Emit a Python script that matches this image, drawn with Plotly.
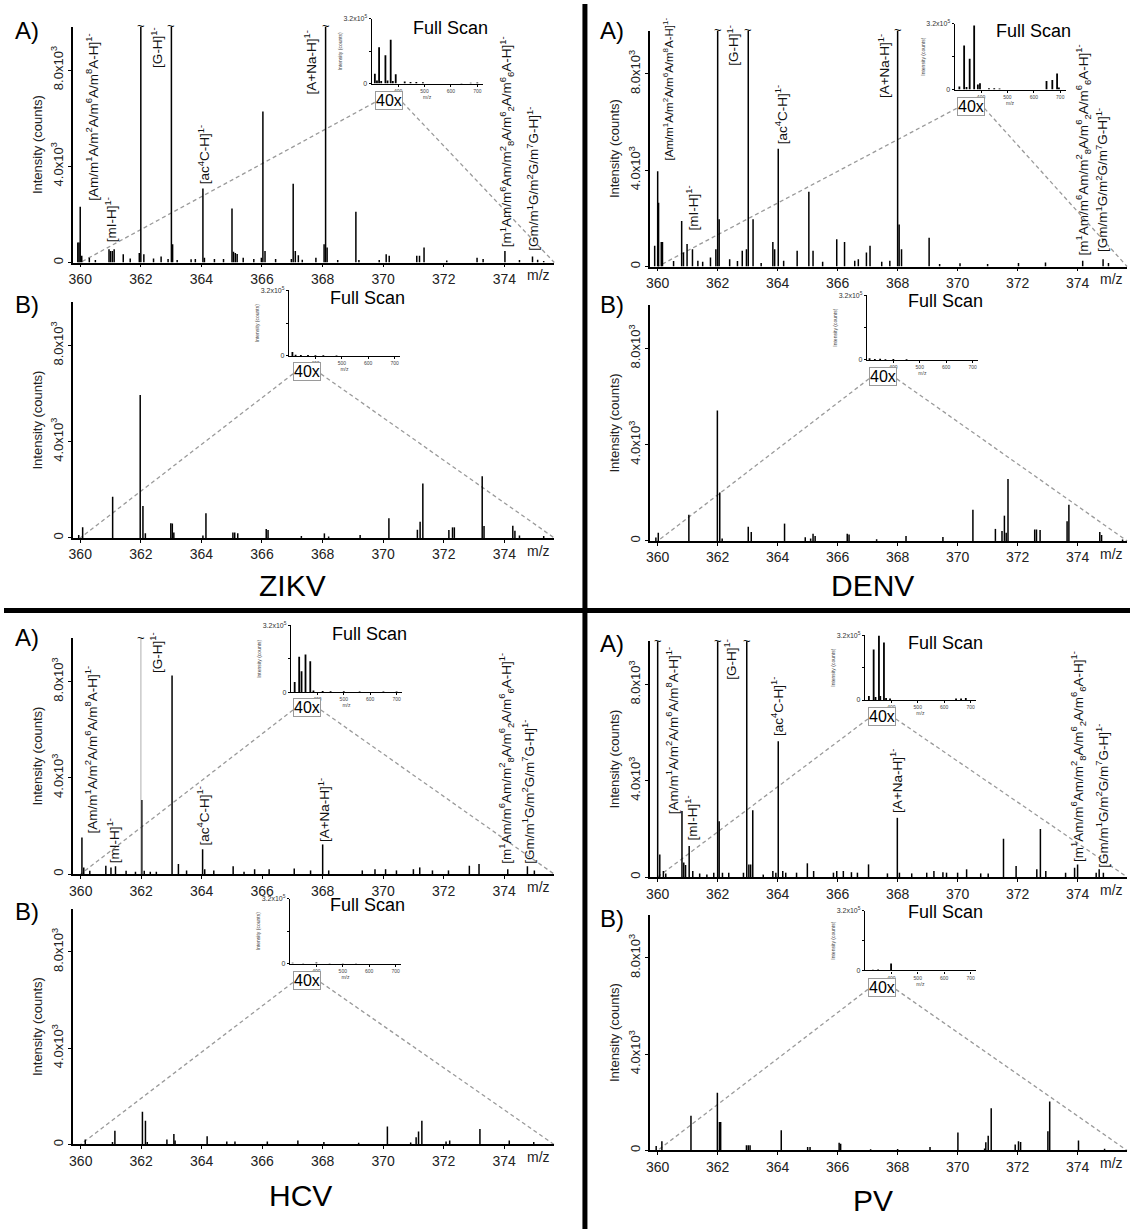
import plotly.graph_objects as go

W, H = 1130, 1232
FONT = "Arial, Liberation Sans, Helvetica, sans-serif"

# ---------------- axes / tick labels ----------------
MAIN_X_TICKS = [360, 362, 364, 366, 368, 370, 372, 374]
MAIN_Y_TICKS = [0, 4000, 8000]
MAIN_Y_TICKTEXT = ["0", "4.0x10<sup>3</sup>", "8.0x10<sup>3</sup>"]
X_RANGE = [359.75, 375.65]
Y_MAX = 9800
FULL_X_TICKS = [400, 500, 600, 700]
FULL_Y_TICKS = [0, 160000, 320000]
FULL_Y_TICKTEXT = ["0", "", "3.2x10<sup>5</sup>"]
FULL_X_RANGE = [300, 720]
FULL_Y_MAX = 320000
VIRUSES = ["ZIKV", "DENV", "HCV", "PV"]

# ---------------- peak labels ----------------
AM = "[Am/m<sup>1</sup>A/m<sup>2</sup>A/m<sup>6</sup>A/m<sup>8</sup>A-H]<sup>1-</sup>"
MI = "[mI-H]<sup>1-</sup>"
GH = "[G-H]<sup>1-</sup>"
AC = "[ac<sup>4</sup>C-H]<sup>1-</sup>"
ANA = "[A+Na-H]<sup>1-</sup>"
M1AM = ("[m<sup>1</sup>Am/m<sup>6</sup>Am/m<sup>2</sup><sub>8</sub>A/m<sup>6</sup><sub>2</sub>A/"
        "m<sup>6</sup><sub>6</sub>A-H]<sup>1-</sup>")
GM = "[Gm/m<sup>1</sup>G/m<sup>2</sup>G/m<sup>7</sup>G-H]<sup>1-</sup>"

# ---------------- spectra (m/z, counts) ----------------
ZIKV_A = [(359.92, 830), (359.96, 830), (360.0, 2320), (360.05, 280), (360.3, 200), (360.5, 100),
          (360.95, 550), (361.0, 480), (361.06, 480), (361.12, 550), (361.42, 345), (361.65, 165),
          (361.95, 400), (362.0, 20000), (362.1, 345), (362.42, 165), (362.67, 250), (362.9, 150),
          (363.01, 20000), (363.05, 760), (363.2, 100), (363.66, 140), (363.8, 150), (364.05, 3075),
          (364.1, 200), (364.43, 150), (364.73, 150), (365.01, 2250), (365.06, 450), (365.12, 400),
          (365.18, 350), (365.38, 200), (365.73, 150), (365.98, 200), (366.03, 6275), (366.1, 480),
          (366.45, 150), (366.97, 150), (367.03, 3270), (367.1, 480), (367.2, 300), (367.33, 120),
          (367.78, 200), (368.05, 760), (368.1, 20000), (368.15, 620), (368.5, 100), (369.1, 2110),
          (369.2, 100), (369.87, 100), (370.1, 345), (370.2, 280), (371.11, 280), (371.2, 280),
          (371.35, 620), (372.1, 80), (373.1, 200), (373.3, 150), (374.02, 480), (374.5, 100),
          (374.93, 250), (375.1, 120), (375.3, 60)]
ZIKV_B = [(359.95, 120), (360.08, 440), (361.07, 1710), (361.98, 5945), (362.07, 1330), (362.15, 200),
          (362.99, 615), (363.04, 600), (363.09, 230), (364.05, 100), (364.15, 1030), (365.04, 230),
          (365.1, 230), (365.2, 200), (366.14, 370), (366.2, 330), (367.3, 80), (368.06, 190),
          (368.2, 60), (369.24, 120), (370.19, 820), (371.13, 340), (371.22, 670), (371.31, 2260),
          (372.17, 330), (372.29, 440), (372.35, 440), (373.27, 2560), (373.33, 500), (374.28, 510),
          (374.35, 300), (374.5, 100), (375.3, 80)]
DENV_A = [(359.9, 860), (360.0, 3960), (360.03, 2650), (360.12, 1020), (360.16, 1020), (360.53, 230),
          (360.8, 1890), (360.86, 580), (360.98, 930), (361.16, 720), (361.34, 235), (361.5, 200),
          (361.76, 370), (361.94, 720), (362.0, 20000), (362.05, 1960), (362.4, 300), (362.66, 230),
          (362.82, 650), (362.96, 720), (363.02, 20000), (363.18, 1960), (363.45, 150), (363.84, 1020),
          (363.9, 720), (364.02, 4890), (364.2, 235), (364.65, 650), (365.04, 3110), (365.18, 650),
          (365.5, 200), (365.97, 1130), (366.23, 1020), (366.57, 235), (366.69, 300), (366.96, 580),
          (367.08, 860), (367.47, 200), (367.74, 235), (368.0, 20000), (368.05, 1750), (368.13, 720),
          (369.05, 1200), (369.4, 100), (370.08, 140), (371.0, 100), (372.03, 150), (372.93, 165),
          (374.17, 235), (374.85, 300), (375.03, 150)]
DENV_B = [(359.94, 140), (360.02, 340), (361.04, 1090), (361.99, 5420), (362.07, 2010), (362.15, 100),
          (363.02, 590), (363.12, 370), (364.23, 720), (364.92, 150), (365.1, 100), (365.18, 300),
          (365.25, 200), (366.32, 300), (366.38, 270), (367.3, 70), (368.28, 200), (369.51, 160),
          (370.51, 1300), (371.26, 500), (371.48, 410), (371.56, 1050), (371.62, 340), (371.68, 2570),
          (372.57, 480), (372.63, 480), (372.75, 450), (373.65, 820), (373.71, 1500), (374.74, 370),
          (374.8, 250), (375.5, 60)]
HCV_A = [(360.04, 1520), (360.1, 275), (360.3, 140), (360.83, 345), (361.0, 275), (361.15, 320),
         (361.5, 140), (361.81, 100), (362.02, 3075), (362.1, 140), (362.3, 100), (362.5, 100),
         (363.02, 8250), (363.23, 415), (363.5, 150), (364.03, 1035), (364.1, 200), (364.4, 150),
         (365.04, 320), (365.4, 100), (365.75, 200), (366.23, 200), (367.06, 235), (367.6, 150),
         (368.0, 1230), (368.2, 150), (369.31, 150), (369.73, 200), (370.08, 200), (370.44, 150),
         (371.0, 200), (371.21, 275), (371.63, 150), (372.16, 150), (372.85, 345), (373.17, 415),
         (374.12, 200), (374.77, 320), (375.0, 150)]
HCV_A_OFFSCALE = [(361.99, 20000)]
HCV_B = [(360.15, 205), (361.05, 100), (361.13, 575), (362.04, 1360), (362.14, 990), (362.2, 100),
         (362.85, 205), (363.08, 440), (363.12, 165), (364.18, 340), (364.83, 120), (365.1, 120),
         (366.17, 120), (367.18, 165), (368.04, 100), (369.19, 70), (370.14, 750), (370.91, 80),
         (371.09, 300), (371.17, 535), (371.28, 990), (372.08, 120), (372.2, 165), (373.2, 645),
         (374.17, 165), (374.98, 100)]
PV_A = [(360.0, 20000), (360.07, 940), (360.19, 250), (360.27, 150), (360.81, 2740), (360.87, 600),
        (360.93, 500), (361.05, 1290), (361.17, 250), (361.4, 150), (361.64, 100), (361.87, 180),
        (362.0, 20000), (362.05, 2320), (362.16, 180), (362.37, 180), (362.86, 180), (362.97, 20000),
        (363.04, 525), (363.1, 525), (363.17, 2770), (363.52, 100), (363.84, 250), (363.94, 180),
        (364.02, 5640), (364.17, 250), (364.27, 180), (364.63, 180), (364.99, 570), (365.2, 250),
        (365.86, 180), (365.97, 250), (366.19, 250), (366.46, 200), (366.66, 180), (367.03, 525),
        (367.66, 150), (367.99, 2460), (368.06, 180), (368.47, 150), (368.97, 180), (369.21, 250),
        (369.51, 200), (369.63, 180), (370.0, 180), (370.3, 320), (370.77, 150), (371.02, 150),
        (371.53, 1590), (371.95, 460), (372.64, 320), (372.76, 2000), (372.94, 250), (373.6, 180),
        (373.9, 390), (374.0, 525), (374.62, 180), (374.72, 320), (374.86, 180)]
PV_B = [(359.95, 180), (360.14, 380), (361.11, 1440), (361.99, 2400), (362.06, 1180), (362.1, 1180),
        (362.96, 220), (363.02, 220), (363.08, 220), (364.12, 835), (365.0, 140), (365.08, 140),
        (366.05, 315), (366.1, 280), (367.1, 50), (368.0, 60), (369.08, 140), (370.01, 750),
        (370.9, 80), (370.94, 340), (371.02, 615), (371.12, 1750), (371.92, 245), (372.03, 380),
        (372.1, 355), (373.01, 795), (373.07, 2030), (374.03, 410), (374.9, 70)]

# full-scan insets (m/z, counts)
ZIKV_A_FULL = [(312, 49000), (320, 15000), (328, 180000), (336, 12000), (352, 140000), (360, 15000),
               (372, 217000), (380, 12000), (391, 46000), (425, 10000), (447, 8000), (469, 8000),
               (494, 6000), (640, 3000), (675, 4000), (700, 5000)]
ZIKV_B_FULL = [(313, 19000), (325, 6000), (345, 5000), (372, 5000), (400, 3000), (430, 3000), (480, 2000)]
DENV_A_FULL = [(318, 15000), (336, 215000), (345, 12000), (357, 150000), (374, 312000), (388, 25000),
               (396, 30000), (430, 6000), (450, 6000), (470, 5000), (648, 42000), (670, 47000),
               (688, 78000), (695, 10000)]
DENV_B_FULL = [(310, 8000), (330, 5000), (350, 6000), (370, 4000), (400, 5000), (450, 3000)]
HCV_A_FULL = [(314, 48000), (331, 170000), (340, 100000), (355, 180000), (373, 148000), (385, 8000),
              (420, 5000), (450, 4000), (500, 4000), (560, 3000), (650, 3000), (700, 3000)]
HCV_B_FULL = [(310, 4000), (350, 3000), (400, 5000), (450, 3000), (500, 2000), (550, 2000)]
PV_A_FULL = [(315, 20000), (333, 250000), (340, 15000), (353, 320000), (358, 20000), (372, 285000),
             (380, 10000), (395, 8000), (645, 8000), (664, 8000), (682, 10000)]
PV_B_FULL = [(330, 4000), (350, 5000), (370, 3000), (399, 38000), (450, 3000)]

# label anchors: (text, m/z, counts at label base, horizontal anchor, font size)
ZIKV_A_LABELS = [(AM, 360.02, 2500, "left", 13.5), (MI, 361.0, 760, "center", 13.5),
                 (GH, 362.15, 8000, "left", 13.5), (AC, 364.07, 3170, "center", 13.5),
                 (ANA, 367.98, 6900, "right", 13.5), (M1AM, 374.07, 550, "center", 13.5),
                 (GM, 374.92, 410, "center", 13.5)]
DENV_A_LABELS = [(AM, 360.05, 4310, "left", 11.5), (MI, 361.16, 1410, "center", 13.5),
                 (GH, 362.15, 8250, "left", 13.5), (AC, 364.1, 5000, "center", 13.5),
                 (ANA, 367.89, 6930, "right", 13.5), (M1AM, 374.19, 370, "center", 13.5),
                 (GM, 374.81, 510, "center", 13.5)]
HCV_A_LABELS = [(AM, 359.98, 1590, "left", 13.5), (MI, 361.07, 345, "center", 13.5),
                (GH, 362.15, 8280, "left", 13.5), (AC, 364.06, 1100, "center", 13.5),
                (ANA, 368.04, 1240, "center", 13.5), (M1AM, 374.08, 345, "center", 13.5),
                (GM, 374.79, 345, "center", 13.5)]
PV_A_LABELS = [(AM, 360.1, 2530, "left", 13.5), (MI, 361.12, 1420, "center", 13.5),
               (GH, 362.04, 8130, "left", 13.5), (AC, 364.0, 5780, "center", 13.5),
               (ANA, 367.96, 2600, "center", 13.5), (M1AM, 374.02, 525, "center", 13.5),
               (GM, 374.83, 320, "center", 13.5)]

# ---------------- layout geometry (pixels) ----------------
PANELS = [
    dict(tag="A)", peaks=ZIKV_A, full=ZIKV_A_FULL, labels=ZIKV_A_LABELS, x360=76.5, ppu=30.4, base=260,
         tag_xy=(23, 27), fs_xy=(448, 24), box_xy=(386, 97), inset=(369, 15, 80)),
    dict(tag="B)", peaks=ZIKV_B, full=ZIKV_B_FULL, labels=[], x360=76.5, ppu=30.4, base=537,
         tag_xy=(23, 302), fs_xy=(365, 296), box_xy=(304, 370), inset=(286, 288, 354)),
    dict(tag="A)", peaks=DENV_A, full=DENV_A_FULL, labels=DENV_A_LABELS, x360=656, ppu=30.1, base=264,
         tag_xy=(610, 27), fs_xy=(1033, 27), box_xy=(970, 103), inset=(954, 20, 86)),
    dict(tag="B)", peaks=DENV_B, full=DENV_B_FULL, labels=[], x360=656, ppu=30.1, base=540,
         tag_xy=(610, 302), fs_xy=(945, 299), box_xy=(882, 375), inset=(866, 293, 358)),
    dict(tag="A)", peaks=HCV_A, full=HCV_A_FULL, labels=HCV_A_LABELS, x360=77, ppu=30.35, base=875,
         tag_xy=(23, 637), fs_xy=(367, 634), box_xy=(304, 708), inset=(288, 625, 692)),
    dict(tag="B)", peaks=HCV_B, full=HCV_B_FULL, labels=[], x360=77, ppu=30.35, base=1147,
         tag_xy=(23, 913), fs_xy=(365, 906), box_xy=(304, 982), inset=(287, 900, 965)),
    dict(tag="A)", peaks=PV_A, full=PV_A_FULL, labels=PV_A_LABELS, x360=656, ppu=30.1, base=878,
         tag_xy=(610, 643), fs_xy=(945, 643), box_xy=(881, 717), inset=(864, 635, 700)),
    dict(tag="B)", peaks=PV_B, full=PV_B_FULL, labels=[], x360=656, ppu=30.1, base=1153,
         tag_xy=(610, 920), fs_xy=(945, 913), box_xy=(881, 989), inset=(864, 912, 972)),
]
VIRUS_XY = [(290, 585), (872, 585), (298, 1198), (872, 1203)]
PX_PER_1000 = 24.2
INSET_PX_PER_100 = 26.5


def fx(px):
    return px / W


def fy(py):
    return 1 - py / H


def sticks(peaks):
    xs, ys = [], []
    for mz, h in peaks:
        xs += [mz, mz, None]
        ys += [0, h, None]
    return xs, ys


fig = go.Figure()
layout = dict(width=W, height=H, margin=dict(l=0, r=0, t=0, b=0), showlegend=False,
              paper_bgcolor="white", plot_bgcolor="rgba(0,0,0,0)",
              font=dict(family=FONT, color="black"))
annotations = []
shapes = []

for k, p in enumerate(PANELS):
    mi = 2 * k + 1
    ii = 2 * k + 2
    mx, my = ("x" if mi == 1 else f"x{mi}"), ("y" if mi == 1 else f"y{mi}")
    ix, iy = f"x{ii}", f"y{ii}"
    left = p["x360"] + (X_RANGE[0] - 360) * p["ppu"]
    right = p["x360"] + (X_RANGE[1] - 360) * p["ppu"]
    top = p["base"] - Y_MAX / 1000 * PX_PER_1000
    layout["xaxis" if mi == 1 else f"xaxis{mi}"] = dict(
        domain=[fx(left), fx(right)], range=X_RANGE, anchor=my, tickvals=MAIN_X_TICKS,
        ticks="outside", ticklen=3, tickcolor="black", showline=True, linecolor="black",
        linewidth=1.5, showgrid=False, zeroline=False, tickfont=dict(size=14, color="#222"))
    layout["yaxis" if mi == 1 else f"yaxis{mi}"] = dict(
        domain=[fy(p["base"]), fy(top)], range=[0, Y_MAX], anchor=mx, tickvals=MAIN_Y_TICKS,
        ticktext=MAIN_Y_TICKTEXT, tickangle=-90, ticks="outside", ticklen=3, tickcolor="black",
        showline=True, linecolor="black", linewidth=1.5, showgrid=False, zeroline=False,
        tickfont=dict(size=13, color="#222"),
        title=dict(text="Intensity (counts)", font=dict(size=13, color="#222"), standoff=4))
    xs, ys = sticks(p["peaks"])
    fig.add_trace(go.Scatter(x=xs, y=ys, mode="lines", line=dict(color="black", width=1.5),
                             xaxis=mx, yaxis=my, hoverinfo="skip"))
    if k == 4:
        gx, gy = sticks(HCV_A_OFFSCALE)
        fig.add_trace(go.Scatter(x=gx, y=gy, mode="lines", line=dict(color="#999", width=0.8),
                                 xaxis=mx, yaxis=my, hoverinfo="skip"))
        breaks = [m for m, h in HCV_A_OFFSCALE]
    else:
        breaks = [m for m, h in p["peaks"] if h > Y_MAX]
    for m in breaks:
        annotations.append(dict(x=m, y=Y_MAX, xref=mx, yref=my, text="~", showarrow=False,
                                font=dict(size=13), yanchor="middle", xanchor="center", yshift=1))
    for text, m, yv, xa, fs in p["labels"]:
        annotations.append(dict(x=m, y=yv, xref=mx, yref=my, text=text, textangle=-90,
                                showarrow=False, xanchor=xa, yanchor="bottom",
                                font=dict(size=fs, color="#111")))
    # m/z label of main axis
    annotations.append(dict(x=fx(p["x360"] + 15.13 * p["ppu"]), y=fy(p["base"] + 13), xref="paper",
                            yref="paper", text="m/z", showarrow=False, font=dict(size=14, color="#222"),
                            xanchor="center", yanchor="middle"))
    # inset full scan
    il, itop, ibase = p["inset"]
    iright = il + (FULL_X_RANGE[1] - FULL_X_RANGE[0]) / 100 * INSET_PX_PER_100
    layout[f"xaxis{ii}"] = dict(
        domain=[fx(il), fx(iright)], range=FULL_X_RANGE, anchor=iy, tickvals=FULL_X_TICKS,
        ticks="outside", ticklen=2, tickcolor="black", showline=True, linecolor="black",
        linewidth=1.2, showgrid=False, zeroline=False, tickfont=dict(size=5, color="#444"),
        title=dict(text="m/z", font=dict(size=5, color="#444"), standoff=0))
    layout[f"yaxis{ii}"] = dict(
        domain=[fy(ibase), fy(itop)], range=[0, FULL_Y_MAX], anchor=ix, tickvals=FULL_Y_TICKS,
        ticktext=FULL_Y_TICKTEXT, ticks="outside", ticklen=2, tickcolor="black", showline=True,
        linecolor="black", linewidth=1.2, showgrid=False, zeroline=False,
        tickfont=dict(size=7, color="#333"),
        title=dict(text="Intensity (counts)", font=dict(size=5, color="#444"), standoff=0))
    fxs, fys = sticks(p["full"])
    fig.add_trace(go.Scatter(x=fxs, y=fys, mode="lines", line=dict(color="black", width=1.8),
                             xaxis=ix, yaxis=iy, hoverinfo="skip"))
    # texts
    annotations.append(dict(x=fx(p["tag_xy"][0]), y=fy(p["tag_xy"][1]), xref="paper", yref="paper",
                            text=p["tag"], showarrow=False, font=dict(size=24), xanchor="center",
                            yanchor="middle"))
    annotations.append(dict(x=fx(p["fs_xy"][0]), y=fy(p["fs_xy"][1]), xref="paper", yref="paper",
                            text="Full Scan", showarrow=False, font=dict(size=18), xanchor="center",
                            yanchor="middle"))
    bx, by = p["box_xy"]
    annotations.append(dict(x=fx(bx), y=fy(by), xref="paper", yref="paper", text="40x",
                            showarrow=False, font=dict(size=16), xanchor="center", yanchor="middle",
                            bordercolor="#9a9a9a", borderwidth=1, borderpad=0, bgcolor="white"))
    for x0, y0, x1, y1 in [(bx - 14, by + 2, p["x360"], p["base"]), (bx + 14, by + 2, right, p["base"])]:
        shapes.append(dict(type="line", xref="paper", yref="paper", x0=fx(x0), y0=fy(y0),
                           x1=fx(x1), y1=fy(y1), line=dict(color="#9a9a9a", width=1.3, dash="4px,3px"),
                           layer="below"))

for name, (vx, vy) in zip(VIRUSES, VIRUS_XY):
    annotations.append(dict(x=fx(vx), y=fy(vy), xref="paper", yref="paper", text=name,
                            showarrow=False, font=dict(size=30), xanchor="center", yanchor="middle"))

# quadrant dividers
shapes.append(dict(type="line", xref="paper", yref="paper", x0=fx(583), x1=fx(583), y0=0, y1=1,
                   line=dict(color="black", width=5)))
shapes.append(dict(type="line", xref="paper", yref="paper", x0=0, x1=1, y0=fy(610), y1=fy(610),
                   line=dict(color="black", width=5)))

layout["annotations"] = annotations
layout["shapes"] = shapes
fig.update_layout(**layout)
fig.write_html("out.html", config={"displayModeBar": False},
               post_script="document.body.style.margin='0px';document.body.style.overflow='hidden';")
